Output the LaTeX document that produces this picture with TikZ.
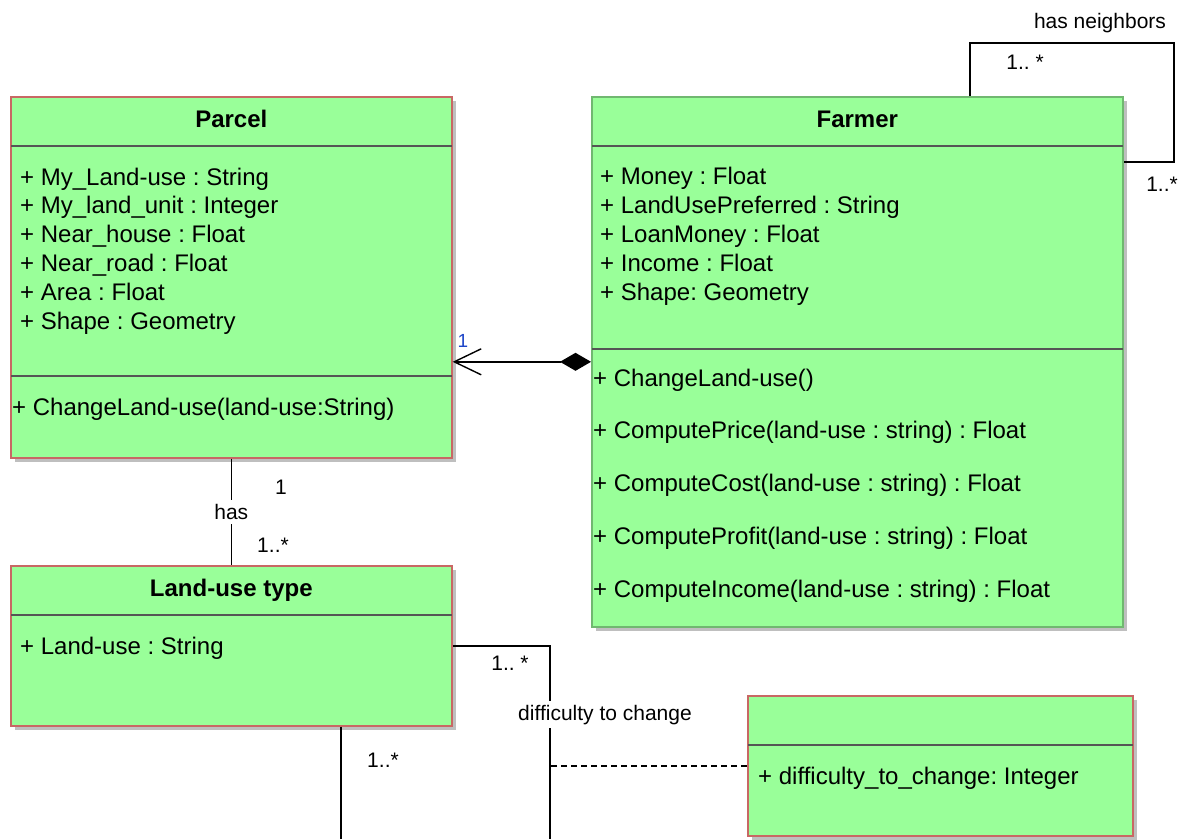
\documentclass[tikz,border=0pt]{standalone}
\usepackage{fontspec}
\setmainfont{Liberation Sans}
\usepackage{tikz}
\definecolor{boxfill}{RGB}{153,255,153}
\definecolor{boxred}{RGB}{200,104,100}
\definecolor{boxgreen}{RGB}{112,184,112}
\definecolor{sepgray}{RGB}{85,85,85}
\definecolor{multblue}{RGB}{30,70,200}
\usetikzlibrary{positioning, quotes, shapes, arrows.meta, shadows}
\newcommand{\cltext}{\fontsize{24}{28.8}\selectfont}
\newcommand{\lbtext}{\fontsize{21}{25}\selectfont}
\frenchspacing

\begin{document}
\begin{tikzpicture}[x=1pt, y=-1pt,
                    every node/.style = {text=black, inner sep=0pt, font=\cltext},
                    every edge/.style = {draw, line width=1.4pt},
                    every edge quotes/.style = {fill=white, font=\lbtext, inner xsep=1pt, inner ysep=4pt},
                    classbox/.style = {draw=boxred, fill=boxfill, line width=1.6pt, anchor=north west,
                                       drop shadow={shadow xshift=4pt, shadow yshift=-4pt, fill=black!25, opacity=1}},
                    sepline/.style = {draw=sepgray, line width=1.6pt},
                    classname/.style = {font=\cltext\bfseries, anchor=base},
                    members/.style = {align=left, anchor=base west},
                    mult/.style = {font=\lbtext, anchor=base},
                    assoc/.style = {draw, line width=1.4pt}]
    \useasboundingbox (0,0) rectangle (1182,839);

    % class boxes
    \node (parcel)    [classbox, minimum width=441pt, minimum height=361pt] at (10,96) {};
    \node (farmer)    [classbox, draw=boxgreen, minimum width=531pt, minimum height=530pt] at (591,96) {};
    \node (landuse)   [classbox, minimum width=441pt, minimum height=160pt] at (10,565) {};
    \node (diffclass) [classbox, minimum width=385pt, minimum height=140pt] at (747,695) {};

    \foreach \c/\d in {parcel/50, parcel/280, farmer/50, farmer/253, landuse/50, diffclass/50}
        \draw [sepline, shorten <=1pt, shorten >=1pt] ([yshift=-\d pt]\c.north west) -- ([yshift=-\d pt]\c.north east);

    % Parcel (members anchored at the baseline of their last line)
    \node (parcelname) [classname] at ([yshift=-31pt]parcel.north) {Parcel};
    \node (parcelattr) [members] at (20,329) {+ My\_Land-use : String\\+ My\_land\_unit : Integer\\+ Near\_house : Float\\+ Near\_road : Float\\+ Area : Float\\+ Shape : Geometry};
    \node (parcelops)  [members] at (12,415) {+ ChangeLand-use(land-use:String)};

    % Farmer
    \node (farmername) [classname] at ([yshift=-31pt]farmer.north) {Farmer};
    \node (farmerattr) [members] at (600,300) {+ Money : Float\\+ LandUsePreferred : String\\+ LoanMoney : Float\\+ Income : Float\\+ Shape: Geometry};
    \node (farmerops)  [members, font=\fontsize{24}{52.75}\selectfont] at (593,597) {+ ChangeLand-use()\\+ ComputePrice(land-use : string) : Float\\+ ComputeCost(land-use : string) : Float\\+ ComputeProfit(land-use : string) : Float\\+ ComputeIncome(land-use : string) : Float};

    % Land-use type
    \node (landusename) [classname] at ([yshift=-31pt]landuse.north) {Land-use type};
    \node (landuseattr) [members] at (20,654) {+ Land-use : String};

    % association class
    \node (diffattr) [members] at (758,784) {+ difficulty\_to\_change: Integer};

    % Parcel -- Land-use type
    \draw (parcel.south) edge ["has"] (landuse.north);
    \node (hasone)  [mult] at (281,494) {1};
    \node (hasmany) [mult] at (273,552) {1..*};

    % Farmer owns Parcel
    \draw [assoc, {Diamond[length=31pt, width=18pt]}-{Straight Barb[length=27pt, width=26pt]}] (farmer.west) -- (farmer.west -| parcel.east);
    \node (compone) [fill=white, text=multblue, font=\fontsize{19}{22}\selectfont, minimum width=13pt, minimum height=24pt] at (463,341) {1};

    % Farmer has neighbors
    \coordinate (loopleft)  at (970,43);
    \coordinate (loopright) at (1174,43);
    \draw [assoc] (farmer.north -| loopleft) -- (loopleft) -- (loopright) |- ([yshift=-66pt]farmer.north east);
    \node (nbname) [mult] at (1100,28) {has neighbors};
    \node (nbfrom) [mult] at (1025,69) {1.. *};
    \node (nbto)   [mult] at (1162,191) {1..*};

    % Land-use type -- difficulty to change
    \coordinate (diffend) at (550,839);
    \coordinate (lowend)  at (341,839);
    \draw [assoc] (landuse.east) -| (diffend);
    \node (diffname) [mult, fill=white, inner xsep=1pt, inner ysep=4pt] at (605,720) {difficulty to change};
    \node (diffmult) [mult] at (510,670) {1.. *};
    \draw [assoc, dash pattern=on 6pt off 4pt] (diffclass.west) -- (diffclass.west -| diffend);

    \draw [assoc] (landuse.south -| lowend) -- (lowend);
    \node (lowmult) [mult] at (383,767) {1..*};
\end{tikzpicture}
\end{document}
